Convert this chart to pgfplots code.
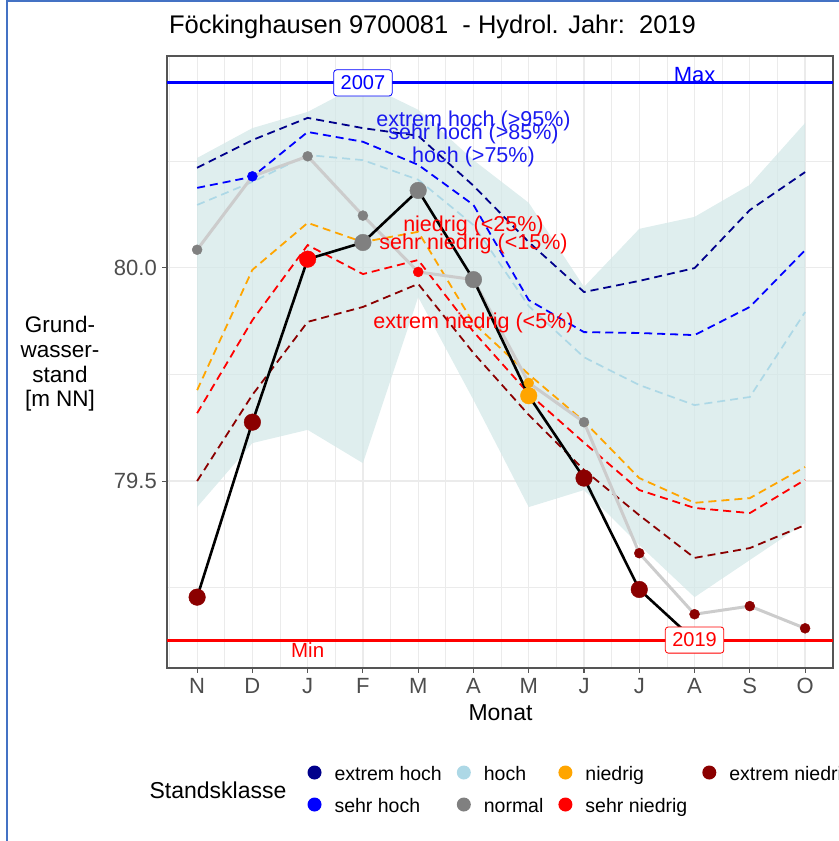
\documentclass[border=0pt]{standalone}
\usepackage{fontspec}
\setmainfont{Liberation Sans}
\usepackage{pgfplots}
\pgfplotsset{compat=1.18}
\usepackage{pgfplotstable}
\usepgfplotslibrary{fillbetween}

\definecolor{navyq}{HTML}{00008B}
\definecolor{blueq}{HTML}{0000FF}
\definecolor{lblueq}{HTML}{ADD8E6}
\definecolor{orangeq}{HTML}{FFA500}
\definecolor{redq}{HTML}{FF0000}
\definecolor{dredq}{HTML}{8B0000}
\definecolor{grayq}{HTML}{808080}
\definecolor{gridc}{HTML}{EBEBEB}
\definecolor{borderc}{HTML}{555555}
\definecolor{tickc}{HTML}{4D4D4D}
\definecolor{bandc}{HTML}{D4E8E8}
\definecolor{prevc}{HTML}{CCCCCC}
\definecolor{framec}{HTML}{4472C4}
\definecolor{txtblue}{HTML}{1A1AF0}

% month index: 0=N ... 11=O
\pgfplotstableread{
x up lo navy blue lblue orange red dred
0 80.257 79.439 80.234 80.187 80.147 79.713 79.659 79.500
1 80.327 79.589 80.299 80.213 80.201 79.995 79.877 79.702
2 80.365 79.620 80.351 80.318 80.264 80.105 80.053 79.873
3 80.433 79.542 80.327 80.295 80.252 80.060 79.985 79.908
4 80.370 79.931 80.309 80.241 80.206 80.084 80.018 79.962
5 80.252 79.690 80.192 80.147 80.100 79.870 79.850 79.800
6 80.152 79.439 80.060 79.924 79.910 79.750 79.705 79.655
7 79.955 79.479 79.943 79.849 79.790 79.640 79.590 79.526
8 80.091 79.350 79.969 79.847 79.725 79.507 79.479 79.420
9 80.119 79.228 79.999 79.842 79.678 79.449 79.437 79.320
10 80.194 79.315 80.135 79.908 79.697 79.460 79.425 79.343
11 80.339 79.402 80.224 80.041 79.896 79.533 79.503 79.397
}\qtab

\pgfplotstableread{
x y c
0 79.228 en
1 79.638 en
2 80.020 sn
3 80.059 n
4 80.181 n
5 79.972 n
6 79.700 ni
7 79.507 en
8 79.246 en
9 79.127 en
}\cur

\pgfplotstableread{
x y c
0 80.042 n
1 80.214 sh
2 80.261 n
3 80.122 n
4 79.990 sn
5 79.972 n
6 79.730 ni
7 79.638 n
8 79.331 en
9 79.188 en
10 79.207 en
11 79.155 en
}\prev

\begin{document}
\begin{tikzpicture}
\begin{axis}[
  at={(167bp,173bp)}, anchor=south west,
  scale only axis, width=666bp, height=612bp,
  xmin=-0.545, xmax=11.505, ymin=79.062, ymax=80.496,
  xtick={0,1,2,3,4,5,6,7,8,9,10,11},
  xticklabels={N,D,J,F,M,A,M,J,J,A,S,O},
  minor xtick={-0.5,0.5,1.5,2.5,3.5,4.5,5.5,6.5,7.5,8.5,9.5,10.5,11.5},
  ytick={79.5,80.0}, yticklabels={79.5,80.0},
  minor ytick={79.25,79.75,80.25},
  /pgf/number format/assume math mode=true,
  grid=both,
  major grid style={color=gridc, line width=1.2bp},
  minor grid style={color=gridc, line width=0.7bp},
  axis line style={draw=borderc, line width=1.2bp},
  tick style={color=borderc, line width=1.1bp},
  tick align=outside, tick pos=left,
  major tick length=5bp, minor tick length=0bp,
  xticklabel style={font=\fontsize{22bp}{26bp}\selectfont, text=tickc, inner sep=0pt, yshift=-5bp},
  yticklabel style={font=\fontsize{22bp}{26bp}\selectfont, text=tickc, inner sep=0pt, xshift=-5bp},
  legend columns=4,
  legend cell align=left,
  legend style={at={(axis description cs:0.211,-0.152)}, anchor=north west,
    draw=none, fill=none, inner sep=0pt, outer sep=0pt,
    font=\fontsize{19.5bp}{23bp}\selectfont,
    nodes={inner sep=0pt, text height=14bp, text depth=4bp},
    row sep=9bp,
    /tikz/every odd column/.append style={column sep=13bp},
    /tikz/every even column/.append style={column sep=15bp}},
]
% band
\addplot[name path=up, draw=none, no markers, forget plot] table[x=x,y=up]{\qtab};
\addplot[name path=lo, draw=none, no markers, forget plot] table[x=x,y=lo]{\qtab};
\addplot[fill=bandc, fill opacity=0.75, draw=none, forget plot] fill between[of=up and lo];
% quantile lines
\addplot[lblueq, line width=1.7bp, dash pattern=on 8bp off 5bp, no markers, forget plot] table[x=x,y=lblue]{\qtab};
\addplot[blueq, line width=1.8bp, dash pattern=on 8bp off 5bp, no markers, forget plot] table[x=x,y=blue]{\qtab};
\addplot[navyq, line width=1.8bp, dash pattern=on 8bp off 5bp, no markers, forget plot] table[x=x,y=navy]{\qtab};
\addplot[orangeq, line width=1.8bp, dash pattern=on 8bp off 5bp, no markers, forget plot] table[x=x,y=orange]{\qtab};
\addplot[redq, line width=1.8bp, dash pattern=on 8bp off 5bp, no markers, forget plot] table[x=x,y=red]{\qtab};
\addplot[dredq, line width=1.8bp, dash pattern=on 8bp off 5bp, no markers, forget plot] table[x=x,y=dred]{\qtab};
% max / min
\addplot[blueq, line width=3bp, no markers, forget plot] coordinates {(-0.545,80.433) (11.505,80.433)};
\addplot[redq, line width=3bp, no markers, forget plot] coordinates {(-0.545,79.1275) (11.505,79.1275)};
% previous year (grey line)
\addplot[prevc, line width=3bp, no markers, forget plot] table[x=x,y=y]{\prev};
\addplot[scatter, only marks, scatter src=explicit symbolic, mark size=5bp, forget plot,
  scatter/classes={
    eh={mark=*,draw=navyq,fill=navyq},
    sh={mark=*,draw=blueq,fill=blueq},
    h={mark=*,draw=lblueq,fill=lblueq},
    n={mark=*,draw=grayq,fill=grayq},
    ni={mark=*,draw=orangeq,fill=orangeq},
    sn={mark=*,draw=redq,fill=redq},
    en={mark=*,draw=dredq,fill=dredq}}]
  table[x=x,y=y,meta=c]{\prev};
% current year
\addplot[black, line width=2.6bp, no markers, forget plot] table[x=x,y=y]{\cur};
\addplot[scatter, only marks, scatter src=explicit symbolic, mark size=8.3bp, forget plot,
  scatter/classes={
    eh={mark=*,draw=navyq,fill=navyq},
    sh={mark=*,draw=blueq,fill=blueq},
    h={mark=*,draw=lblueq,fill=lblueq},
    n={mark=*,draw=grayq,fill=grayq},
    ni={mark=*,draw=orangeq,fill=orangeq},
    sn={mark=*,draw=redq,fill=redq},
    en={mark=*,draw=dredq,fill=dredq}}]
  table[x=x,y=y,meta=c]{\cur};
% texts
\begin{pgfonlayer}{axis foreground}
\node[text=txtblue, font=\fontsize{21.5bp}{25bp}\selectfont, inner sep=0pt] at (axis cs:5,80.344) {extrem hoch (>95\%)};
\node[text=txtblue, font=\fontsize{21.5bp}{25bp}\selectfont, inner sep=0pt] at (axis cs:5,80.314) {sehr hoch (>85\%)};
\node[text=txtblue, font=\fontsize{21.5bp}{25bp}\selectfont, inner sep=0pt] at (axis cs:5,80.260) {hoch (>75\%)};
\node[text=redq, font=\fontsize{21.5bp}{25bp}\selectfont, inner sep=0pt] at (axis cs:5,80.098) {niedrig (<25\%)};
\node[text=redq, font=\fontsize{21.5bp}{25bp}\selectfont, inner sep=0pt] at (axis cs:5,80.056) {sehr niedrig (<15\%)};
\node[text=redq, font=\fontsize{21.5bp}{25bp}\selectfont, inner sep=0pt] at (axis cs:5,79.871) {extrem niedrig (<5\%)};
\node[text=blueq, font=\fontsize{22bp}{26bp}\selectfont, inner sep=0pt, anchor=base] at (axis cs:9,80.433) {Max};
\node[text=redq, font=\fontsize{20.5bp}{24bp}\selectfont, inner sep=0pt, anchor=base] at (axis cs:2,79.0877) {Min};
\node[draw=blueq, fill=white, rounded corners=3bp, line width=0.8bp, text=blueq, font=\fontsize{20bp}{24bp}\selectfont, inner xsep=7bp, inner ysep=6bp] at (axis cs:3,80.433) {2007};
\node[draw=redq, fill=white, rounded corners=3bp, line width=0.8bp, text=redq, font=\fontsize{20bp}{24bp}\selectfont, inner xsep=7bp, inner ysep=6bp] at (axis cs:9,79.1275) {2019};
\end{pgfonlayer}
% legend
\addlegendimage{legend image code/.code={\path[draw=none,fill=none] (0bp,-4bp) rectangle (14bp,14bp); \fill[navyq,draw=none] (7bp,2.5bp) circle (7bp);}}
\addlegendentry{extrem hoch}
\addlegendimage{legend image code/.code={\path[draw=none,fill=none] (0bp,-4bp) rectangle (14bp,14bp); \fill[lblueq,draw=none] (7bp,2.5bp) circle (7bp);}}
\addlegendentry{hoch}
\addlegendimage{legend image code/.code={\path[draw=none,fill=none] (0bp,-4bp) rectangle (14bp,14bp); \fill[orangeq,draw=none] (7bp,2.5bp) circle (7bp);}}
\addlegendentry{niedrig}
\addlegendimage{legend image code/.code={\path[draw=none,fill=none] (0bp,-4bp) rectangle (14bp,14bp); \fill[dredq,draw=none] (7bp,2.5bp) circle (7bp);}}
\addlegendentry{extrem niedrig}
\addlegendimage{legend image code/.code={\path[draw=none,fill=none] (0bp,-4bp) rectangle (14bp,14bp); \fill[blueq,draw=none] (7bp,2.5bp) circle (7bp);}}
\addlegendentry{sehr hoch}
\addlegendimage{legend image code/.code={\path[draw=none,fill=none] (0bp,-4bp) rectangle (14bp,14bp); \fill[grayq,draw=none] (7bp,2.5bp) circle (7bp);}}
\addlegendentry{normal}
\addlegendimage{legend image code/.code={\path[draw=none,fill=none] (0bp,-4bp) rectangle (14bp,14bp); \fill[redq,draw=none] (7bp,2.5bp) circle (7bp);}}
\addlegendentry{sehr niedrig}
\end{axis}
% outside texts
\node[anchor=base, font=\fontsize{25.5bp}{30bp}\selectfont, inner sep=0pt] at (432.5bp,807.7bp) {Föckinghausen 9700081\ \ - Hydrol. Jahr:\ \ 2019};
\node[anchor=base, font=\fontsize{23bp}{27bp}\selectfont, inner sep=0pt] at (500.5bp,120bp) {Monat};
\node[anchor=base, font=\fontsize{23bp}{27bp}\selectfont, inner sep=0pt] at (218bp,42bp) {Standsklasse};
\node[anchor=base, font=\fontsize{22.5bp}{26bp}\selectfont, inner sep=0pt] at (60bp,508bp) {Grund-};
\node[anchor=base, font=\fontsize{22.5bp}{26bp}\selectfont, inner sep=0pt] at (60bp,483bp) {wasser-};
\node[anchor=base, font=\fontsize{22.5bp}{26bp}\selectfont, inner sep=0pt] at (60bp,458bp) {stand};
\node[anchor=base, font=\fontsize{22.5bp}{26bp}\selectfont, inner sep=0pt] at (60bp,434bp) {[m NN]};
% screenshot frame
\draw[framec, line width=2bp] (7bp,0bp) -- (7bp,840bp) -- (839bp,840bp);
\pgfresetboundingbox
\useasboundingbox (0,0) rectangle (839bp,841bp);
\end{tikzpicture}
\end{document}
